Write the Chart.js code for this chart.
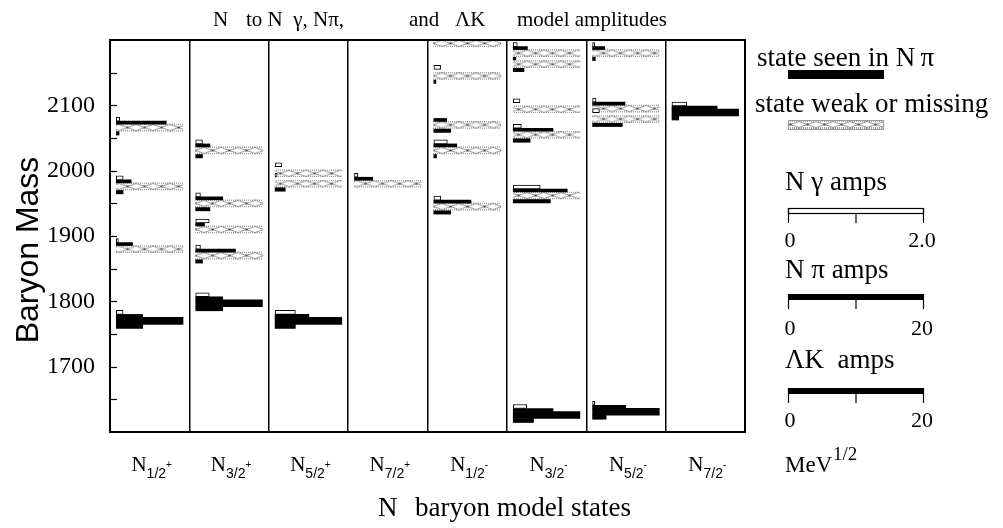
<!DOCTYPE html>
<html>
<head>
<meta charset="utf-8">
<script src="https://cdn.jsdelivr.net/npm/chart.js@4.4.0/dist/chart.umd.min.js"></script>
<style>
  body { margin: 0; background: #fff; }
</style>
</head>
<body>
<canvas id="massChart" width="1003" height="528"></canvas>
<script>
// columns of the plot (spin / parity)
const spins = ["1/2", "3/2", "5/2", "7/2", "1/2", "3/2", "5/2", "7/2"];
const parities = ["+", "+", "+", "+", "-", "-", "-", "-"];
const massLabels = [1700, 1800, 1900, 2000, 2100];

// model states, one entry per state
const stateColumn = [0, 0, 0, 0, 1, 1, 1, 1, 1, 2, 2, 2, 3, 4, 4, 4, 4, 4, 5, 5, 5, 5, 5, 5, 6, 6, 6, 6, 7];
const stateMass   = [2066, 1976, 1880, 1770, 2031, 1950, 1910, 1870, 1797, 1996, 1980, 1770, 1980,
                     2195, 2145, 2070, 2031, 1945, 2180, 2163, 2094, 2055, 1962, 1626, 2180, 2095, 2079, 1631, 2089];
const seenInNPi   = [0, 0, 0, 1, 0, 0, 0, 0, 1, 0, 0, 1, 0, 0, 0, 0, 0, 0, 0, 0, 0, 0, 0, 1, 0, 0, 0, 1, 1];
// amplitudes: N gamma in MeV^1/2 (0..2.0), N pi and Lambda K in MeV^1/2 (0..20)
const nGammaAmps  = [0.05, 0.1, 0.03, 0.1, 0.1, 0.07, 0.2, 0.07, 0.2, 0.1, 0.03, 0.3, 0.05,
                     0.03, 0.1, 0, 0.2, 0.1, 0.06, 0, 0.1, 0.12, 0.4, 0.2, 0.03, 0.05, 0.1, 0.03, 0.22];
const nPiAmps     = [7.4, 2.2, 2.4, 3.9, 2.1, 4.0, 1.3, 5.9, 4.0, 0, 0, 5.0, 2.7,
                     0, 0, 1.9, 3.4, 5.5, 2.1, 0, 0, 5.9, 8.0, 5.9, 1.8, 4.8, 0, 4.9, 6.7];
const lambdaKAmps = [0.4, 1.0, 0, 3.9, 1.0, 2.1, 0, 1.0, 4.0, 0, 1.5, 3.0, 0,
                     0, 0.3, 2.5, 0.4, 2.5, 0.4, 1.6, 0, 2.5, 5.5, 3.0, 0.4, 0, 4.4, 2.0, 1.0];

const serif = "'Liberation Serif', 'Times New Roman', serif";
const sans = "'Liberation Sans', Arial, sans-serif";

const colPx = 635 / 8;       // width of one column
const mevPerPx = 600 / 392;  // y scale
const keyPx = 135;           // length of full scale in the key

function ampRows(amps, fullScale, shiftPx) {
  const rows = [];
  amps.forEach((a, i) => {
    if (!a) return;
    const x0 = stateColumn[i] + 0.08;
    rows.push({ y: stateMass[i] + shiftPx * mevPerPx, x: [x0, x0 + (a / fullScale) * keyPx / colPx] });
  });
  return rows;
}

function bandRows(seen) {
  const rows = [];
  stateMass.forEach((m, i) => {
    if (seenInNPi[i] !== seen) return;
    rows.push({ y: m, x: [stateColumn[i] + 0.08, stateColumn[i] + 0.92] });
  });
  return rows;
}

// hatched tile for weak states
const tile = document.createElement("canvas");
tile.width = 17; tile.height = 7;
(function () {
  const g = tile.getContext("2d");
  g.fillStyle = "#fff";
  g.fillRect(0, 0, 17, 7);
  g.strokeStyle = "#8c8c8c";
  g.lineWidth = 0.9;
  g.beginPath();
  g.moveTo(0, 0.5); g.lineTo(17, 6.5);
  g.moveTo(0, 6.5); g.lineTo(17, 0.5);
  g.stroke();
  g.fillStyle = "#444";
  g.fillRect(7.5, 2.5, 2, 2);
  g.fillStyle = "#9a9a9a";
  for (let x = 0; x < 17; x += 2) {
    g.fillRect(x, 0, 1, 1);
    g.fillRect(x, 6, 1, 1);
  }
})();

function hatch(ctx) {
  const chart = ctx.chart;
  const p = chart.ctx.createPattern(tile, "repeat");
  if (ctx.type === "data" && chart.scales.y) {
    const py = chart.scales.y.getPixelForValue(ctx.raw.y);
    p.setTransform(new DOMMatrix().translate(0, py - 3.5));
  }
  return p;
}

function text(c, s, x, y, font, align) {
  c.font = font;
  c.textAlign = align || "left";
  c.fillText(s, x, y);
}

const decor = {
  id: "decor",
  afterDraw(chart) {
    const c = chart.ctx;
    const a = chart.chartArea;
    const xs = chart.scales.x;
    const ys = chart.scales.y;
    c.save();
    c.fillStyle = "#000";
    c.strokeStyle = "#000";

    // frame
    c.lineWidth = 2;
    c.strokeRect(a.left, a.top, a.right - a.left, a.bottom - a.top);

    // inward ticks every 50
    c.lineWidth = 1.2;
    ys.ticks.forEach(t => {
      if (t.value <= ys.min || t.value >= ys.max) return;
      const py = Math.round(ys.getPixelForValue(t.value)) + 0.5;
      c.beginPath();
      c.moveTo(a.left, py);
      c.lineTo(a.left + 7, py);
      c.stroke();
    });

    // column labels
    c.textBaseline = "alphabetic";
    spins.forEach((s, i) => {
      const cx = xs.getPixelForValue(i + 0.5);
      c.font = "21px " + serif;
      const wN = c.measureText("N").width;
      c.font = "14px " + sans;
      const wS = c.measureText(s).width;
      c.font = "10px " + sans;
      const wP = c.measureText(parities[i]).width;
      let x = cx - (wN + wS + wP) / 2 + 2;
      text(c, "N", x, 471, "21px " + serif);
      text(c, s, x + wN, 478, "14px " + sans);
      text(c, parities[i], x + wN + wS, 468, "10px " + sans);
    });

    // titles
    text(c, "N", 213, 26, "21px " + serif);
    text(c, "to N  \u03b3, N\u03c0,", 246, 26, "21px " + serif);
    text(c, "and", 409, 26, "21px " + serif);
    text(c, "\u039bK", 455, 26, "21px " + serif);
    text(c, "model amplitudes", 517, 26, "21px " + serif);
    text(c, "N", 378, 516, "27px " + serif);
    text(c, "baryon model states", 415, 516, "27px " + serif);

    c.save();
    c.translate(38, 250);
    c.rotate(-Math.PI / 2);
    text(c, "Baryon Mass", 0, 0, "32px " + sans, "center");
    c.restore();

    // key
    text(c, "state seen in N\u2009\u03c0", 757, 66, "27px " + serif);
    c.fillRect(788, 70, 96, 9);
    text(c, "state weak or missing", 755, 112, "27px " + serif);
    const pat = c.createPattern(tile, "repeat");
    pat.setTransform(new DOMMatrix().translate(0, 121));
    c.fillStyle = pat;
    c.fillRect(788, 121, 96, 8);
    c.strokeStyle = "#9a9a9a";
    c.lineWidth = 1;
    c.strokeRect(788.5, 120.5, 95, 9);
    c.fillStyle = "#000";
    c.strokeStyle = "#000";

    const scaleKey = (label, yText, yBar, open, lo, hi, yNum) => {
      text(c, label, 785, yText, "27px " + serif);
      c.lineWidth = 1.2;
      if (open) {
        c.strokeRect(788.5, yBar + 0.5, keyPx, 5);
      } else {
        c.fillRect(788, yBar, keyPx + 1, 6);
      }
      c.beginPath();
      c.moveTo(788.5, yBar); c.lineTo(788.5, yBar + 15);
      c.moveTo(788.5 + keyPx / 2, yBar + 5); c.lineTo(788.5 + keyPx / 2, yBar + 15);
      c.moveTo(788.5 + keyPx, yBar); c.lineTo(788.5 + keyPx, yBar + 15);
      c.stroke();
      text(c, lo, 790, yNum, "22px " + serif, "center");
      text(c, hi, 922, yNum, "22px " + serif, "center");
    };
    scaleKey("N \u03b3 amps", 190, 208, true, "0", "2.0", 247);
    scaleKey("N \u03c0 amps", 278, 294, false, "0", "20", 335);
    scaleKey("\u039bK  amps", 368, 388, false, "0", "20", 427);

    text(c, "MeV", 785, 472, "23px " + serif);
    text(c, "1/2", 833, 460, "19px " + serif);
    c.restore();
  }
};

new Chart(document.getElementById("massChart"), {
  type: "bar",
  data: {
    datasets: [
      {
        label: "N gamma",
        data: ampRows(nGammaAmps, 2.0, 8.5),
        backgroundColor: "#fff",
        borderColor: "#000",
        borderWidth: 1,
        borderSkipped: false,
        barThickness: 4,
        grouped: false
      },
      {
        label: "N pi",
        data: ampRows(nPiAmps, 20, 5),
        backgroundColor: "#000",
        borderWidth: 0,
        barThickness: 3,
        grouped: false
      },
      {
        label: "seen",
        data: bandRows(1),
        backgroundColor: "#000",
        borderWidth: 0,
        barThickness: 7,
        grouped: false
      },
      {
        label: "weak",
        data: bandRows(0),
        backgroundColor: hatch,
        borderWidth: 0,
        barThickness: 7,
        grouped: false
      },
      {
        label: "Lambda K",
        data: ampRows(lambdaKAmps, 20, -5.5),
        backgroundColor: "#000",
        borderWidth: 0,
        barThickness: 4,
        grouped: false
      }
    ]
  },
  options: {
    indexAxis: "y",
    responsive: false,
    animation: false,
    layout: { padding: { left: 0, right: 258, top: 40, bottom: 96 } },
    plugins: {
      legend: { display: false },
      tooltip: { enabled: false }
    },
    scales: {
      x: {
        type: "linear",
        min: 0,
        max: 8,
        offset: false,
        ticks: { display: false, stepSize: 1 },
        grid: { color: "#000", lineWidth: 1.5, drawTicks: false, offset: false },
        border: { display: false },
        afterFit: s => { s.height = 0; }
      },
      y: {
        type: "linear",
        min: 1600,
        max: 2200,
        offset: false,
        ticks: {
          stepSize: 50,
          autoSkip: false,
          padding: 15,
          color: "#000",
          font: { family: serif, size: 24 },
          callback: v => (massLabels.includes(v) ? String(v) : "")
        },
        grid: { display: false, drawTicks: false, offset: false },
        border: { display: false },
        afterFit: s => { s.width = 110; }
      }
    }
  },
  plugins: [decor]
});
</script>
</body>
</html>
